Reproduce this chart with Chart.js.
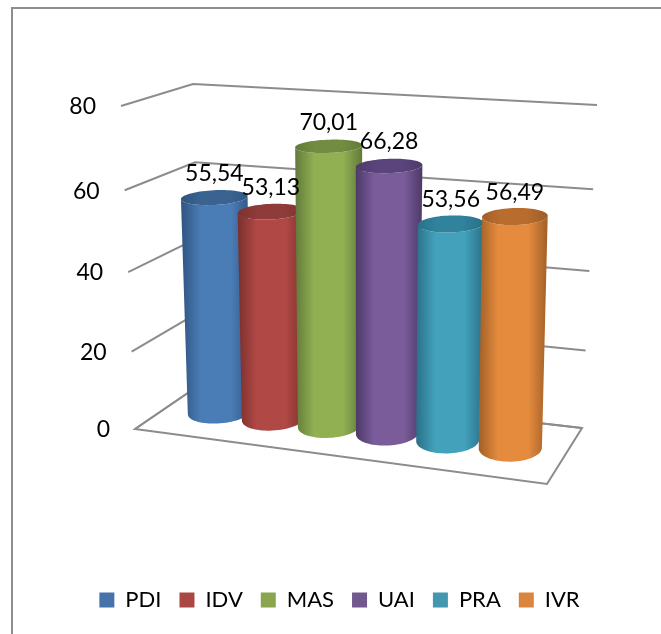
<!DOCTYPE html>
<html>
<head>
<meta charset="utf-8">
<title>Dimensions</title>
<style>
  html, body { margin: 0; padding: 0; background: #fff; }
  #wrap { position: relative; width: 661px; height: 634px; overflow: hidden; }
  #frame { position: absolute; left: 11px; top: 7px; right: -5px; bottom: -5px; border: 2px solid #8e8e8e; }
  canvas { position: absolute; left: 0; top: 0; }
</style>
<script src="https://cdn.jsdelivr.net/npm/chart.js@4"></script>
</head>
<body>
<div id="wrap">
  <div id="frame"></div>
  <canvas id="chart" width="661" height="634"></canvas>
</div>
<script>
const categories = ['PDI', 'IDV', 'MAS', 'UAI', 'PRA', 'IVR'];
const scores = [55.54, 53.13, 70.01, 66.28, 53.56, 56.49];
const scoreLabels = ['55,54', '53,13', '70,01', '66,28', '53,56', '56,49'];
const axisTicks = [0, 20, 40, 60, 80];

const legendColors = ['#4674aa', '#aa4644', '#89a54e', '#71588f', '#4198af', '#db843d'];
const bodyEdge = ['#2f5480', '#7a2f2d', '#62793a', '#4d3a68', '#2a7088', '#a25f26'];
const bodyLight = ['#4a7cb6', '#b04845', '#90b052', '#7a5c9b', '#43a1bb', '#e48b3e'];
const capColor = ['#3a6392', '#8f3b39', '#728d41', '#5b437c', '#30829d', '#b86c2d'];
const capEdge = ['#31557f', '#7c3230', '#627a38', '#4e3a6a', '#296f87', '#9f5d27'];

// floor and top planes of the box, front-left / front-right / back-right / back-left
const floorCorners = [[135, 429], [547, 484], [582, 428], [201, 384]];
const topCorners = [[121, 106], [548, 131], [597, 105], [193, 84]];

function planeMap(q) {
  const [a, b, c, d] = q;
  const d1x = b[0] - c[0], d1y = b[1] - c[1];
  const d2x = d[0] - c[0], d2y = d[1] - c[1];
  const sx = a[0] - b[0] + c[0] - d[0], sy = a[1] - b[1] + c[1] - d[1];
  const det = d1x * d2y - d1y * d2x;
  const g = (sx * d2y - sy * d2x) / det;
  const h = (d1x * sy - d1y * sx) / det;
  return (u, w) => {
    const n = 1 + g * u + h * w;
    return [
      ((b[0] - a[0] + g * b[0]) * u + (d[0] - a[0] + h * d[0]) * w + a[0]) / n,
      ((b[1] - a[1] + g * b[1]) * u + (d[1] - a[1] + h * d[1]) * w + a[1]) / n
    ];
  };
}
const floorAt = planeMap(floorCorners);
const topAt = planeMap(topCorners);

// u, w across the floor and t up the wall, all 0..1
function project(u, w, t) {
  const h = t / (t + 1.058 * (1 - t));
  const p = floorAt(u, w), q = topAt(u, w);
  return [p[0] + (q[0] - p[0]) * h, p[1] + (q[1] - p[1]) * h];
}

const DEPTH_R = 0.24;

function ring(cu, du, t) {
  const pts = [];
  for (let i = 0; i < 72; i++) {
    const a = i / 72 * Math.PI * 2;
    pts.push(project(cu + du * Math.cos(a), 0.5 - DEPTH_R * Math.sin(a), t));
  }
  return pts;
}

function polygon(ctx, pts) {
  ctx.beginPath();
  pts.forEach((p, i) => i ? ctx.lineTo(p[0], p[1]) : ctx.moveTo(p[0], p[1]));
  ctx.closePath();
}

// near half of a ring, from its rightmost point round the front to its leftmost
function frontArc(pts) {
  let l = 0, r = 0;
  pts.forEach((p, i) => {
    if (p[0] < pts[l][0]) l = i;
    if (p[0] > pts[r][0]) r = i;
  });
  const arc = [];
  for (let i = r; ; i = (i + 1) % pts.length) {
    arc.push(pts[i]);
    if (i === l) break;
  }
  return arc;
}

function drawCylinder(ctx, base, top, i) {
  const baseArc = frontArc(base);
  const topArc = frontArc(top);
  const x0 = Math.min(baseArc[baseArc.length - 1][0], topArc[topArc.length - 1][0]);
  const x1 = Math.max(baseArc[0][0], topArc[0][0]);

  const g = ctx.createLinearGradient(x0, 0, x1, 0);
  g.addColorStop(0, bodyEdge[i]);
  g.addColorStop(0.28, bodyLight[i]);
  g.addColorStop(0.72, bodyLight[i]);
  g.addColorStop(1, bodyEdge[i]);
  polygon(ctx, baseArc.concat(topArc.slice().reverse()));
  ctx.fillStyle = g;
  ctx.fill();

  const c = ctx.createLinearGradient(x0, 0, x1, 0);
  c.addColorStop(0, capEdge[i]);
  c.addColorStop(0.3, capColor[i]);
  c.addColorStop(0.7, capColor[i]);
  c.addColorStop(1, capEdge[i]);
  polygon(ctx, top);
  ctx.fillStyle = c;
  ctx.fill();
}

const boxPlugin = {
  id: 'box',
  beforeDatasetsDraw(chart) {
    const ctx = chart.ctx;
    const area = chart.chartArea;
    const yScale = chart.scales.y;
    const toU = px => 0.0676 + 0.881 * (px - area.left) / (area.right - area.left);
    const toT = py => (area.bottom - py) / (area.bottom - area.top);

    ctx.save();
    ctx.strokeStyle = '#8c8c8c';
    ctx.lineWidth = 2;
    ctx.font = '23px Lato';
    ctx.textBaseline = 'middle';

    // walls: one bent line per tick, then its label at the open end
    yScale.ticks.forEach(tick => {
      const t = toT(yScale.getPixelForValue(tick.value));
      const a = project(0, 0, t), b = project(0, 1, t), c = project(1, 1, t);
      ctx.beginPath();
      ctx.moveTo(a[0], a[1]);
      ctx.lineTo(b[0], b[1]);
      ctx.lineTo(c[0], c[1]);
      ctx.stroke();
      ctx.textAlign = 'right';
      ctx.fillStyle = '#000';
      ctx.fillText(tick.label, a[0] - 25, a[1] + 1);
    });
    polygon(ctx, [project(0, 0, 0), project(1, 0, 0), project(1, 1, 0), project(0, 1, 0)]);
    ctx.stroke();

    // cylinders, left to right so each one sits over the last
    const bars = chart.getDatasetMeta(0).data;
    bars.forEach((bar, i) => {
      const cu = toU(bar.x);
      // nearer bars would come out too fat on the plain projection
      const du = (toU(bar.x + bar.width / 2) - cu) * (1.03 - 0.14 * cu);
      drawCylinder(ctx, ring(cu, du, 0), ring(cu, du, toT(bar.y)), i);
    });

    ctx.textAlign = 'center';
    ctx.fillStyle = '#000';
    bars.forEach((bar, i) => {
      const p = project(toU(bar.x), 0.5, toT(bar.y));
      ctx.fillText(scoreLabels[i], p[0], p[1] - 24);
    });
    ctx.restore();
    return false;
  }
};

new Chart(document.getElementById('chart'), {
  type: 'bar',
  data: {
    labels: categories,
    datasets: [{
      data: scores,
      backgroundColor: legendColors,
      barPercentage: 1.04,
      categoryPercentage: 1
    }]
  },
  options: {
    responsive: false,
    animation: false,
    layout: { padding: { left: 18, right: 0, top: 106, bottom: 13 } },
    scales: {
      x: { display: false },
      y: { display: false, min: 0, max: 80, afterBuildTicks: scale => { scale.ticks = axisTicks.map(value => ({ value, label: String(value) })); } }
    },
    plugins: {
      tooltip: { enabled: false },
      legend: {
        position: 'bottom',
        labels: {
          boxWidth: 15,
          boxHeight: 15,
          padding: 18,
          color: '#000',
          font: { family: 'Lato', size: 22 },
          generateLabels: chart => chart.data.labels.map((text, i) => ({
            text,
            fillStyle: legendColors[i],
            strokeStyle: legendColors[i],
            lineWidth: 0,
            index: i
          }))
        }
      }
    }
  },
  plugins: [boxPlugin]
});
</script>
</body>
</html>
